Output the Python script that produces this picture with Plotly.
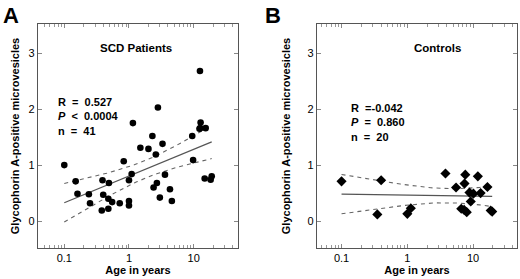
import numpy as np
import plotly.graph_objects as go

# ---------------- data ----------------
scd_age = [0.10, 0.15, 0.16, 0.24, 0.25, 0.39, 0.40, 0.38, 0.49, 0.48,
           0.48, 0.55, 0.72, 0.83, 1.00, 1.00, 1.00, 1.10, 1.15, 1.50,
           2.00, 2.30, 2.60, 2.80, 3.30, 2.40, 2.70, 3.00, 3.60, 4.30,
           4.60, 9.50, 9.80, 12.5, 12.8, 12.3, 15.3, 14.8, 18.3, 19.0, 12.6]
scd_gpa = [1.00, 0.71, 0.49, 0.48, 0.32, 0.73, 0.47, 0.19, 0.68, 0.40,
           0.22, 0.34, 0.32, 1.07, 0.73, 0.36, 0.28, 0.84, 1.75, 1.31,
           1.29, 1.52, 1.19, 2.03, 1.38, 0.60, 0.68, 0.42, 0.83, 0.57,
           0.36, 1.52, 1.09, 2.68, 1.76, 1.65, 1.66, 0.76, 0.74, 0.80, 1.66]

ctl_age = [0.10, 0.40, 0.35, 1.00, 1.13, 3.8, 5.5, 7.6, 7.4, 11.8,
           8.8, 10.1, 13.0, 16.5, 9.2, 6.6, 7.3, 8.0, 18.5, 19.5]
ctl_gpa = [0.71, 0.73, 0.12, 0.13, 0.23, 0.85, 0.60, 0.83, 0.67, 0.80,
           0.51, 0.49, 0.50, 0.61, 0.35, 0.22, 0.20, 0.16, 0.19, 0.17]

x_tick_vals = [0.1, 1, 10]
x_tick_text = ["0.1", "1", "10"]
y_tick_vals = [0, 1, 2, 3]

panel_letters = ["A", "B"]
panel_titles = ["SCD Patients", "Controls"]
stats_text = ["R  =  0.527<br><i>P</i>  &lt;  0.0004<br>n  =  41",
              "R  =-0.042<br><i>P</i>  =  0.860<br>n  =  20"]
t_crit = [2.023, 2.101]   # 97.5% t quantiles for df = 39, 18

FONT = "Arial, Liberation Sans, Helvetica, sans-serif"
W, H = 520, 279


def fit_band(age, val, t):
    lx = np.log10(np.asarray(age, float))
    y = np.asarray(val, float)
    n = len(lx)
    b, a = np.polyfit(lx, y, 1)
    res = y - (a + b * lx)
    s = np.sqrt(np.sum(res ** 2) / (n - 2))
    sxx = np.sum((lx - lx.mean()) ** 2)
    gx = np.linspace(lx.min(), lx.max(), 60)
    gy = a + b * gx
    hw = t * s * np.sqrt(1.0 / n + (gx - lx.mean()) ** 2 / sxx)
    return 10 ** gx, gy, gy + hw, gy - hw


fig = go.Figure()

panels = [
    dict(age=scd_age, val=scd_gpa, sym="circle", size=6.6, xa="x", ya="y", t=t_crit[0]),
    dict(age=ctl_age, val=ctl_gpa, sym="diamond", size=7.8, xa="x2", ya="y2", t=t_crit[1]),
]

for p in panels:
    gx, gy, up, lo = fit_band(p["age"], p["val"], p["t"])
    fig.add_trace(go.Scatter(x=gx, y=gy, mode="lines", xaxis=p["xa"], yaxis=p["ya"],
                             line=dict(color="#555555", width=1.2), showlegend=False,
                             hoverinfo="skip"))
    for band in (up, lo):
        fig.add_trace(go.Scatter(x=gx, y=band, mode="lines", xaxis=p["xa"], yaxis=p["ya"],
                                 line=dict(color="#666666", width=1.1, dash="4px,4px"),
                                 showlegend=False, hoverinfo="skip"))
    fig.add_trace(go.Scatter(x=p["age"], y=p["val"], mode="markers", xaxis=p["xa"], yaxis=p["ya"],
                             marker=dict(symbol=p["sym"], size=p["size"], color="black",
                                         line=dict(width=0)),
                             showlegend=False))

# axis geometry (pixels)
x_dom = [(38, 238), (317, 517)]
x_rng = [(-1.406, 1.685), (-1.373, 1.667)]
y_dom = (1 - 248 / H, 1 - 24 / H)
y_title_standoff = [6, 14]

axis_common = dict(showline=True, linecolor="#555555", linewidth=1.3, mirror="ticks",
                   ticks="inside", tickcolor="#888888", ticklen=4, tickwidth=1,
                   showgrid=False, zeroline=False,
                   tickfont=dict(family=FONT, size=11, color="black"))

for i in range(2):
    xs = "xaxis" if i == 0 else "xaxis2"
    ys = "yaxis" if i == 0 else "yaxis2"
    fig.layout[xs] = dict(axis_common, type="log", range=list(x_rng[i]),
                          domain=[x_dom[i][0] / W, x_dom[i][1] / W],
                          tickvals=x_tick_vals, ticktext=x_tick_text,
                          minor=dict(ticks="inside", ticklen=3, tickcolor="#999999",
                                     dtick="D1", showgrid=False),
                          title=dict(text="<b>Age in years</b>", standoff=2,
                                     font=dict(family=FONT, size=11, color="black")),
                          anchor="y" if i == 0 else "y2")
    fig.layout[ys] = dict(axis_common, range=[-0.48, 3.52], domain=list(y_dom),
                          tickvals=y_tick_vals,
                          title=dict(text="<b>Glycophorin A-positive microvesicles</b>",
                                     standoff=y_title_standoff[i],
                                     font=dict(family=FONT, size=11, color="black")),
                          anchor="x" if i == 0 else "x2")

fig.update_xaxes(tickprefix="<b>", ticksuffix="</b>")
fig.update_yaxes(tickprefix="<b>", ticksuffix="</b>")

ann = []
letter_x = [1, 263]
title_x = [136, 437]
stats_x = [56, 349]
for i in range(2):
    ann.append(dict(text="<b>%s</b>" % panel_letters[i], x=letter_x[i] / W, y=1 - 1 / H,
                    xref="paper", yref="paper", xanchor="left", yanchor="top", showarrow=False,
                    font=dict(family=FONT, size=22, color="black")))
    ann.append(dict(text="<b>%s</b>" % panel_titles[i], x=title_x[i] / W, y=1 - 48 / H,
                    xref="paper", yref="paper", xanchor="center", yanchor="middle", showarrow=False,
                    font=dict(family=FONT, size=11.5, color="black")))
    ann.append(dict(text="<b>%s</b>" % stats_text[i], x=stats_x[i] / W, y=1 - (94 if i == 0 else 100) / H,
                    xref="paper", yref="paper", xanchor="left", yanchor="top", showarrow=False,
                    align="left", font=dict(family=FONT, size=11, color="black")))

fig.update_layout(width=W, height=H, margin=dict(l=0, r=0, t=0, b=0),
                  paper_bgcolor="white", plot_bgcolor="white", annotations=ann,
                  font=dict(family=FONT, color="black"))

fig.write_html("out.html", config={"displayModeBar": False},
               post_script="document.body.style.margin='0';")
